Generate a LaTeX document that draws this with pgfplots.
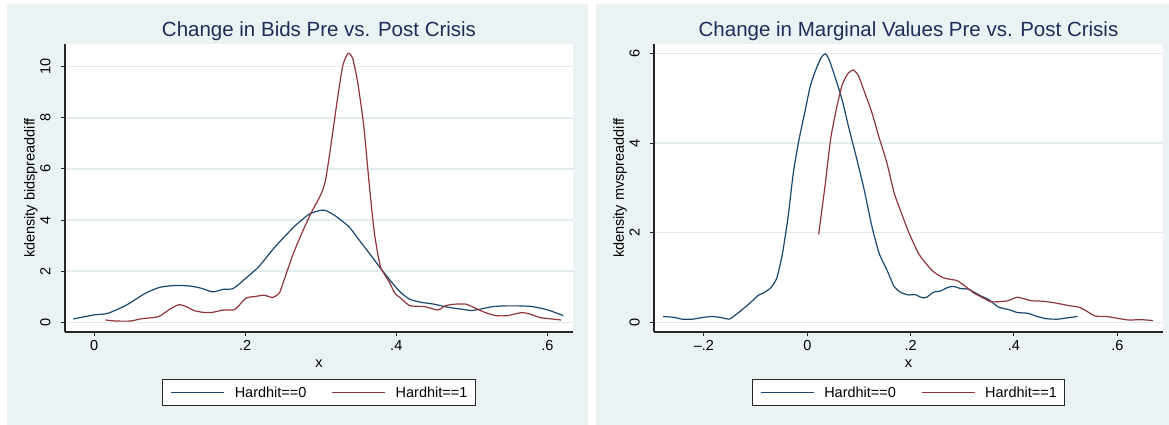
\documentclass[border=0pt]{standalone}
\usepackage{fontspec}
\setmainfont{Liberation Sans}
\usepackage{pgfplots}
\pgfplotsset{compat=1.18}

\definecolor{statabg}{RGB}{234,242,243}
\definecolor{gridc}{RGB}{226,235,238}
\definecolor{navy}{RGB}{26,71,111}
\definecolor{maroon}{RGB}{144,53,59}
\definecolor{ttl}{RGB}{30,45,90}

\pgfplotsset{
  statapanel/.style={
    scale only axis, width=508pt, height=288pt,
    axis background/.style={fill=white},
    axis x line*=bottom, axis y line*=left,
    axis line style={black!85, line width=1.1pt},
    ymajorgrids, grid style={gridc, line width=1.4pt},
    tick align=outside, major tick length=4pt,
    tick style={black!85, line width=1pt},
    /pgf/number format/assume math mode=true,
    tick label style={font=\fontsize{14.5}{16}\selectfont},
    xticklabel style={anchor=base, yshift=-14.7pt},
    yticklabel style={rotate=90, anchor=base, yshift=10.5pt},
    label style={font=\fontsize{14.5}{16}\selectfont},
    xlabel style={at={(axis description cs:0.5,0)}, anchor=base, yshift=-36pt},
    ylabel style={at={(axis description cs:0,0.5)}, anchor=center, yshift=34pt},
    title style={at={(axis description cs:0.5,1)}, anchor=base, yshift=1.3pt,
      font=\fontsize{20.5}{24}\selectfont, color=ttl},
    legend columns=2,
    legend image code/.code={\draw[#1, line width=1.2pt] (0pt,0pt) -- (53pt,0pt);},
    legend style={at={(0.5,-0.21)}, anchor=center, draw=black!85, line width=1pt,
      fill=white, inner xsep=8pt, inner ysep=8pt,
      font=\fontsize{14.5}{16}\selectfont,
      nodes={inner sep=0pt, text height=10.5pt, text depth=0pt},
      /tikz/every odd column/.append style={column sep=10pt},
      /tikz/every even column/.append style={column sep=25pt}},
    every axis plot/.append style={line width=1.2pt, smooth, tension=0.35, mark=none},
  }
}

\begin{document}
\begin{tikzpicture}
\path[use as bounding box, fill=white] (0pt,0pt) rectangle (1169pt,425pt);
\fill[statabg] (7pt,0pt) rectangle (588pt,421pt);
\fill[statabg] (596pt,0pt) rectangle (1169pt,421pt);

\begin{axis}[statapanel, at={(65pt,93pt)}, anchor=south west,
  xmin=-0.0387, xmax=0.634, ymin=-0.38, ymax=10.89,
  xtick={0,0.2,0.4,0.6}, xticklabels={0,.2,.4,.6},
  ytick={0,2,4,6,8,10},
  title={Change in Bids Pre vs. Post Crisis},
  xlabel={x}, ylabel={kdensity bidspreaddiff}]
\addplot[draw=navy] coordinates {
(-0.0277,0.13) (0,0.29) (0.018,0.35) (0.043,0.68) (0.068,1.14) (0.087,1.37)
(0.107,1.44) (0.127,1.42) (0.142,1.33) (0.157,1.19) (0.171,1.29) (0.184,1.32)
(0.201,1.73) (0.218,2.18) (0.24,2.97) (0.265,3.75) (0.285,4.24) (0.30,4.38)
(0.307,4.37) (0.319,4.17) (0.337,3.75) (0.349,3.29) (0.364,2.71) (0.379,2.12)
(0.394,1.56) (0.406,1.16) (0.418,0.90) (0.433,0.78) (0.448,0.72) (0.468,0.59)
(0.487,0.51) (0.50,0.46) (0.512,0.52) (0.527,0.61) (0.542,0.64) (0.566,0.64)
(0.581,0.61) (0.601,0.48) (0.621,0.26)
};
\addlegendentry{Hardhit==0}
\addplot[draw=maroon] coordinates {
(0.015,0.09) (0.028,0.05) (0.048,0.05) (0.063,0.14) (0.085,0.22) (0.10,0.51)
(0.112,0.69) (0.122,0.61) (0.132,0.46) (0.144,0.39) (0.157,0.39) (0.171,0.48)
(0.186,0.50) (0.201,0.95) (0.211,1.0) (0.225,1.06) (0.236,0.97) (0.245,1.14)
(0.25,1.53) (0.263,2.64) (0.275,3.49) (0.287,4.27) (0.30,4.99) (0.306,5.52)
(0.312,6.63) (0.322,8.72) (0.329,10.03) (0.336,10.52) (0.342,10.35) (0.349,9.37)
(0.357,7.67) (0.364,5.45) (0.371,3.49) (0.379,2.18) (0.391,1.56) (0.398,1.14)
(0.406,0.94) (0.418,0.65) (0.438,0.61) (0.455,0.48) (0.465,0.65) (0.478,0.71)
(0.492,0.71) (0.502,0.59) (0.517,0.39) (0.532,0.26) (0.547,0.26) (0.566,0.38)
(0.576,0.33) (0.591,0.18) (0.606,0.13) (0.618,0.09)
};
\addlegendentry{Hardhit==1}
\end{axis}

\begin{axis}[statapanel, at={(654pt,93pt)}, anchor=south west, width=509pt,
  xmin=-0.2967, xmax=0.6884, ymin=-0.216, ymax=6.21,
  xtick={-0.2,0,0.2,0.4,0.6}, xticklabels={{\textendash.2},0,.2,.4,.6},
  ytick={0,2,4,6},
  title={Change in Marginal Values Pre vs. Post Crisis},
  xlabel={x}, ylabel={kdensity mvspreaddiff}]
\addplot[draw=navy] coordinates {
(-0.279,0.13) (-0.257,0.11) (-0.243,0.07) (-0.221,0.07) (-0.207,0.10) (-0.185,0.13)
(-0.164,0.10) (-0.151,0.07) (-0.135,0.20) (-0.113,0.41) (-0.095,0.60) (-0.084,0.66)
(-0.07,0.78) (-0.059,0.99) (-0.048,1.54) (-0.037,2.37) (-0.027,3.34) (-0.016,4.08)
(-0.005,4.68) (0.006,5.28) (0.017,5.65) (0.027,5.91) (0.035,5.99) (0.042,5.87)
(0.053,5.50) (0.067,4.98) (0.081,4.31) (0.096,3.63) (0.11,2.96) (0.125,2.14)
(0.139,1.54) (0.154,1.17) (0.168,0.80) (0.182,0.66) (0.197,0.61) (0.208,0.62)
(0.222,0.55) (0.231,0.56) (0.244,0.67) (0.258,0.70) (0.272,0.78) (0.283,0.80)
(0.298,0.75) (0.312,0.74) (0.334,0.60) (0.352,0.50) (0.37,0.34) (0.391,0.28)
(0.406,0.22) (0.427,0.20) (0.445,0.13) (0.463,0.08) (0.485,0.07) (0.503,0.10)
(0.523,0.13)
};
\addlegendentry{Hardhit==0}
\addplot[draw=maroon] coordinates {
(0.022,1.96) (0.035,3.11) (0.045,4.08) (0.056,4.75) (0.067,5.28) (0.078,5.54)
(0.089,5.63) (0.099,5.50) (0.11,5.16) (0.125,4.68) (0.139,4.12) (0.154,3.56)
(0.168,2.89) (0.182,2.44) (0.197,1.99) (0.215,1.54) (0.229,1.32) (0.244,1.13)
(0.262,1.0) (0.276,0.96) (0.29,0.93) (0.305,0.81) (0.323,0.65) (0.341,0.54)
(0.355,0.46) (0.37,0.46) (0.388,0.48) (0.406,0.56) (0.424,0.51) (0.435,0.48)
(0.456,0.47) (0.481,0.43) (0.507,0.37) (0.525,0.34) (0.539,0.26) (0.557,0.14)
(0.579,0.13) (0.60,0.09) (0.622,0.05) (0.644,0.06) (0.669,0.04)
};
\addlegendentry{Hardhit==1}
\end{axis}
\end{tikzpicture}
\end{document}
